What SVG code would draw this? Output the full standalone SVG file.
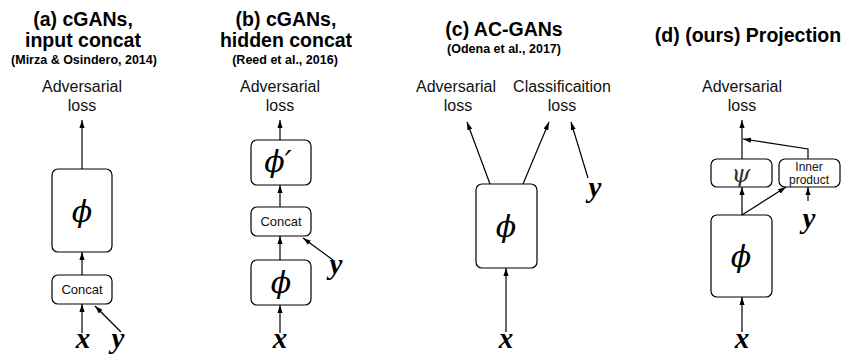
<svg xmlns="http://www.w3.org/2000/svg" width="846" height="354" viewBox="0 0 846 354">
<style>
.title{font-family:"Liberation Sans",Arial,sans-serif;font-weight:bold;font-size:19.5px;text-anchor:middle;fill:#000}
.sub{font-family:"Liberation Sans",Arial,sans-serif;font-weight:bold;font-size:12.5px;text-anchor:middle;fill:#000}
.lbl{font-family:"Liberation Sans",Arial,sans-serif;font-size:16px;text-anchor:middle;fill:#111}
.small{font-family:"Liberation Sans",Arial,sans-serif;font-size:13px;text-anchor:middle;fill:#111}
.tiny{font-family:"Liberation Sans",Arial,sans-serif;font-size:12px;text-anchor:middle;fill:#111}
.box{fill:#fff;stroke:#000;stroke-width:1.2}
.phi{font-family:"DejaVu Serif",serif;font-style:italic;font-size:30px;text-anchor:middle;fill:#000}
.var{font-family:"Liberation Serif","Times New Roman",serif;font-style:italic;font-weight:bold;font-size:29px;text-anchor:middle;fill:#000}
.edge{fill:none;stroke:#000;stroke-width:1.2;marker-end:url(#ah)}
</style>
<defs>
<marker id="ah" viewBox="0 0 10 10" refX="10" refY="5" markerWidth="8" markerHeight="8" markerUnits="userSpaceOnUse" orient="auto">
<path d="M0,1.8 L10,5 L0,8.2 z" fill="#000"/>
</marker>
</defs>

<!-- Titles -->
<g id="titles">
<text class="title" x="83" y="26">(a) cGANs,</text>
<text class="title" x="83" y="47">input concat</text>
<text class="sub" x="84" y="64">(Mirza &amp; Osindero, 2014)</text>
<text class="title" x="286" y="26">(b) cGANs,</text>
<text class="title" x="286" y="47">hidden concat</text>
<text class="sub" x="285" y="64">(Reed et al., 2016)</text>
<text class="title" x="504" y="36">(c) AC-GANs</text>
<text class="sub" x="504" y="53">(Odena et al., 2017)</text>
<text class="title" x="748" y="42">(d) (ours) Projection</text>
</g>

<!-- Panel (a) -->
<g id="a-loss"><text class="lbl" x="82" y="92">Adversarial</text><text class="lbl" x="82" y="111">loss</text></g>
<g id="a-phi"><rect class="box" x="52" y="169" width="60" height="83" rx="6"/><text class="phi" x="82" y="222">ϕ</text></g>
<g id="a-concat"><rect class="box" x="52" y="275" width="60" height="29" rx="6"/><text class="small" x="82" y="294">Concat</text></g>
<g id="a-x"><text class="var" x="83" y="348">x</text></g>
<g id="a-y"><text class="var" x="118" y="348">y</text></g>

<!-- Panel (b) -->
<g id="b-loss"><text class="lbl" x="280" y="92">Adversarial</text><text class="lbl" x="280" y="111">loss</text></g>
<g id="b-phi2"><rect class="box" x="251" y="140" width="60" height="45" rx="6"/><text class="phi" x="278" y="172">ϕ′</text></g>
<g id="b-concat"><rect class="box" x="251" y="207" width="60" height="29" rx="6"/><text class="small" x="281" y="226">Concat</text></g>
<g id="b-phi"><rect class="box" x="251" y="260" width="60" height="45" rx="6"/><text class="phi" x="281" y="293">ϕ</text></g>
<g id="b-x"><text class="var" x="280" y="348">x</text></g>
<g id="b-y"><text class="var" x="336" y="274">y</text></g>

<!-- Panel (c) -->
<g id="c-adv"><text class="lbl" x="456" y="92">Adversarial</text><text class="lbl" x="458" y="111">loss</text></g>
<g id="c-cls"><text class="lbl" x="562" y="92">Classificaition</text><text class="lbl" x="562" y="111">loss</text></g>
<g id="c-phi"><rect class="box" x="476" y="184" width="61" height="84" rx="6"/><text class="phi" x="506" y="237">ϕ</text></g>
<g id="c-x"><text class="var" x="506" y="348">x</text></g>
<g id="c-y"><text class="var" x="595" y="197">y</text></g>

<!-- Panel (d) -->
<g id="d-loss"><text class="lbl" x="742" y="92">Adversarial</text><text class="lbl" x="742" y="111">loss</text></g>
<g id="d-psi"><rect class="box" x="711" y="159" width="61" height="28" rx="6"/><text class="phi" x="741" y="182" style="font-size:24px;fill:#333">ψ</text></g>
<g id="d-inner"><rect class="box" x="779" y="159" width="61" height="28" rx="6"/><text class="tiny" x="809" y="171">Inner</text><text class="tiny" x="809" y="184">product</text></g>
<g id="d-phi"><rect class="box" x="711" y="215" width="61" height="82" rx="6"/><text class="phi" x="741" y="267">ϕ</text></g>
<g id="d-x"><text class="var" x="742" y="348">x</text></g>
<g id="d-y"><text class="var" x="809" y="228">y</text></g>

<!-- Connectors -->
<g id="connectors">
<line class="edge" x1="82" y1="169" x2="82" y2="120"/>
<line class="edge" x1="82" y1="275" x2="82" y2="252"/>
<line class="edge" x1="82" y1="333" x2="82" y2="304"/>
<line class="edge" x1="121" y1="332" x2="95" y2="306"/>

<line class="edge" x1="280" y1="140" x2="280" y2="120"/>
<line class="edge" x1="280" y1="207" x2="280" y2="185"/>
<line class="edge" x1="280" y1="260" x2="280" y2="236"/>
<line class="edge" x1="280" y1="333" x2="280" y2="305"/>
<line class="edge" x1="333" y1="260" x2="303" y2="238"/>

<line class="edge" x1="490" y1="184" x2="467" y2="122"/>
<line class="edge" x1="523" y1="184" x2="549" y2="122"/>
<line class="edge" x1="588" y1="178" x2="571" y2="122"/>
<line class="edge" x1="506" y1="332" x2="506" y2="268"/>

<line class="edge" x1="742" y1="159" x2="742" y2="120"/>
<polyline class="edge" points="808,159 808,149 743,139"/>
<line class="edge" x1="742" y1="215" x2="742" y2="187"/>
<line class="edge" x1="742" y1="215" x2="786" y2="187"/>
<line class="edge" x1="808" y1="201" x2="808" y2="187"/>
<line class="edge" x1="742" y1="332" x2="742" y2="297"/>
</g>
</svg>
